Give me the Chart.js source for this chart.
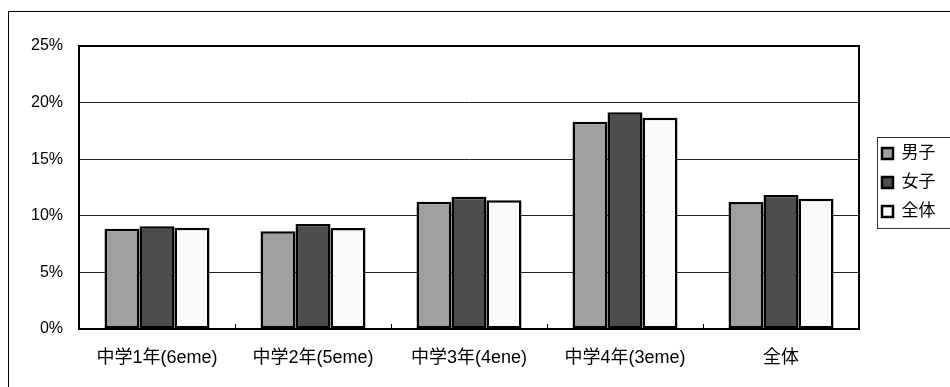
<!DOCTYPE html>
<html>
<head>
<meta charset="utf-8">
<script src="https://cdn.jsdelivr.net/npm/chart.js@4/dist/chart.umd.min.js"></script>
<style>
  body { margin: 0; background: #fff; }
  canvas { display: block; }
</style>
</head>
<body>
<canvas id="chart" width="950" height="387"></canvas>
<script>
// data (percent)
const categories = ["中学1年(6eme)", "中学2年(5eme)", "中学3年(4ene)", "中学4年(3eme)", "全体"];
const boys = [8.86, 8.63, 11.25, 18.3, 11.22];
const girls = [9.07, 9.28, 11.69, 19.14, 11.84];
const total = [8.95, 8.92, 11.37, 18.67, 11.51];
const seriesNames = ["男子", "女子", "全体"];
const yTicks = [0, 5, 10, 15, 20, 25];

const FONT = "'Liberation Sans', 'Noto Sans CJK JP', sans-serif";

// white page, outer chart frame, plot border and legend box
const framePlugin = {
    id: "frame",
    beforeDraw(chart) {
        const ctx = chart.ctx;
        ctx.save();
        ctx.fillStyle = "#fff";
        ctx.fillRect(0, 0, chart.width, chart.height);
        ctx.restore();
    },
    afterLayout(chart) {
        const lg = chart.legend;
        lg.left = 870;
        lg.right = 970;
        lg.top = 133;
        lg.bottom = 247;
    },
    afterDraw(chart) {
        const ctx = chart.ctx;
        const a = chart.chartArea;
        ctx.save();
        ctx.strokeStyle = "#000";
        ctx.lineWidth = 1;
        ctx.strokeRect(8.5, 11.5, 1000, 1000);
        ctx.lineWidth = 2;
        ctx.strokeRect(a.left, a.top, a.right - a.left, a.bottom - a.top);
        ctx.lineWidth = 1;
        ctx.strokeStyle = "#333";
        ctx.strokeRect(877.5, 137.5, 200, 91);
        ctx.restore();
    }
};

new Chart(document.getElementById("chart"), {
    type: "bar",
    data: {
        labels: categories,
        datasets: [
            { label: seriesNames[0], data: boys, backgroundColor: "#a0a0a0" },
            { label: seriesNames[1], data: girls, backgroundColor: "#4d4d4d" },
            { label: seriesNames[2], data: total, backgroundColor: "#fafafa" }
        ].map(d => Object.assign(d, {
            borderColor: "#000",
            borderWidth: 2.5,
            borderSkipped: false,
            categoryPercentage: 0.673,
            barPercentage: 1
        }))
    },
    options: {
        responsive: false,
        animation: false,
        layout: { padding: { left: 9, top: 46, right: 91, bottom: 0 } },
        plugins: {
            tooltip: { enabled: false },
            legend: {
                position: "chartArea",
                align: "start",
                labels: {
                    boxWidth: 11,
                    boxHeight: 11,
                    padding: 12,
                    color: "#000",
                    font: { family: FONT, size: 17 }
                }
            }
        },
        scales: {
            x: {
                grid: { drawOnChartArea: false, drawTicks: true, tickLength: -5, color: "#000" },
                border: { color: "#000", width: 2 },
                ticks: { color: "#000", padding: 23, maxRotation: 0, font: { family: FONT, size: 18 } },
                afterFit(scale) { scale.height = 58; }
            },
            y: {
                min: 0,
                max: 25,
                afterBuildTicks(scale) { scale.ticks = yTicks.map(v => ({ value: v })); },
                grid: { color: "#222", lineWidth: 1, drawTicks: false },
                border: { color: "#000", width: 2 },
                ticks: {
                    color: "#000",
                    padding: 16,
                    font: { family: FONT, size: 16 },
                    callback: v => v + "%"
                },
                afterFit(scale) { scale.width = 70; }
            }
        }
    },
    plugins: [framePlugin]
});
</script>
</body>
</html>
